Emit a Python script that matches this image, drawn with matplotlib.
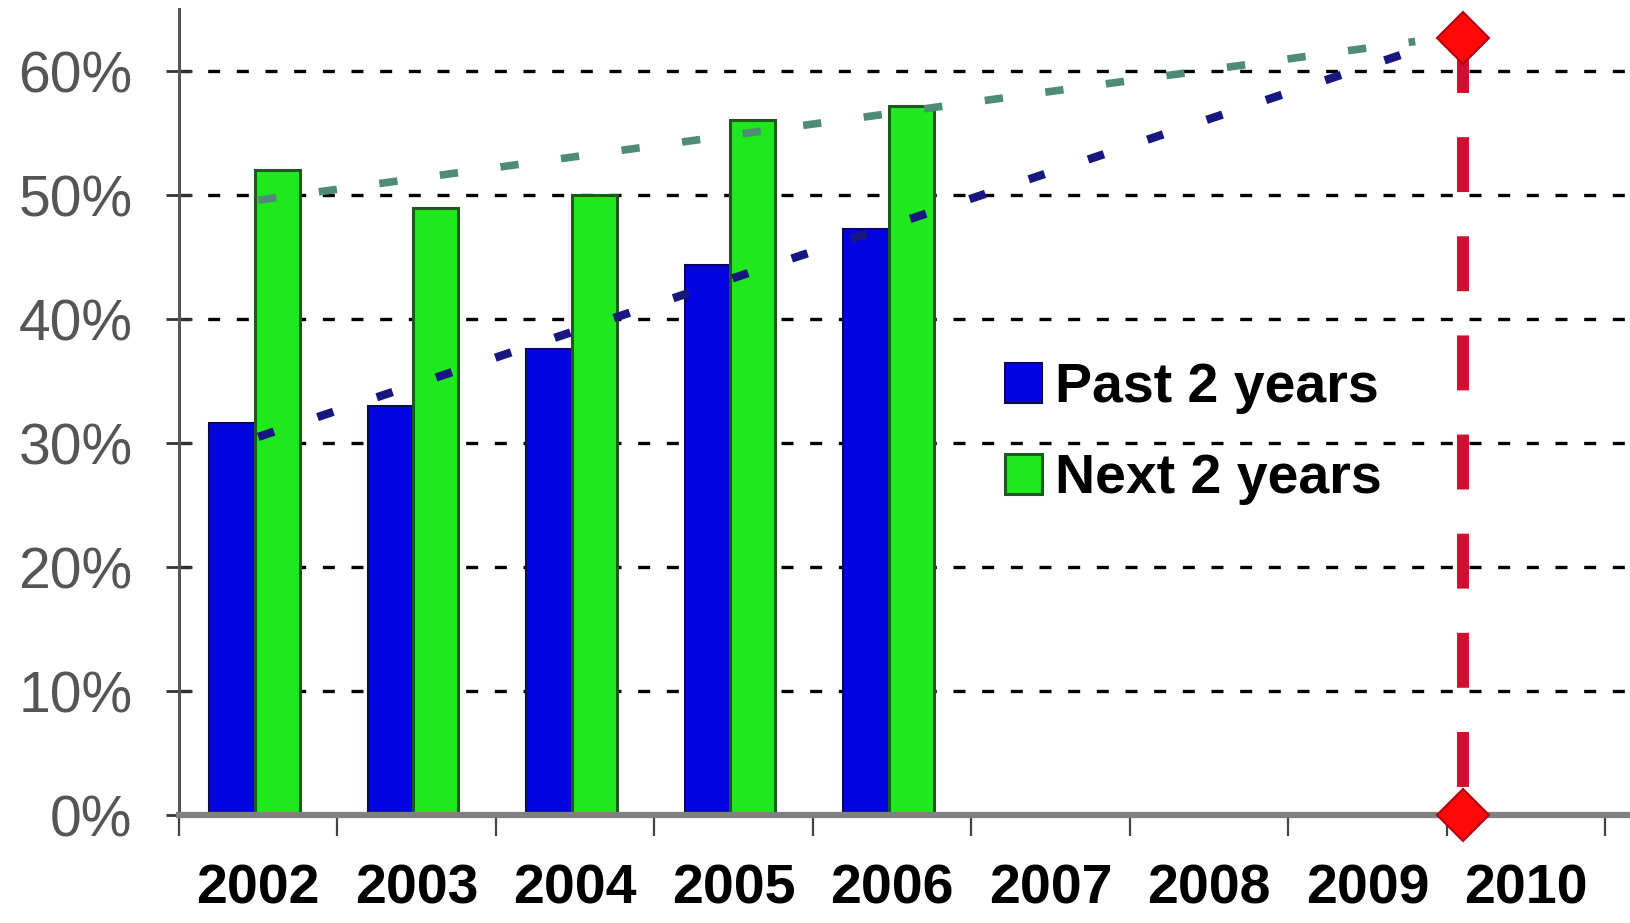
import numpy as np
import matplotlib
matplotlib.use('Agg')
import matplotlib.pyplot as plt
from matplotlib.patches import Patch

# data
years = [2002, 2003, 2004, 2005, 2006, 2007, 2008, 2009, 2010]
bar_years = [2002, 2003, 2004, 2005, 2006]
past_2y = [31.6, 33.0, 37.6, 44.4, 47.3]
next_2y = [52.0, 49.0, 50.0, 56.1, 57.2]
# dashed trend lines (start / end)
trend_years = [2002.0, 2009.3]
past_trend = [30.5, 61.7]
next_trend = [49.6, 62.4]
# red marker line
target_year = 2009.6
target_top = 62.7
yticks = [0, 10, 20, 30, 40, 50, 60]

plt.rcParams['font.family'] = ['Liberation Sans', 'DejaVu Sans']

fig = plt.figure(figsize=(16.3, 9.23), dpi=100)
ax = fig.add_axes([0.1098, 0.117, 0.8902, 0.873])

bar_w = 0.285
ax.bar(np.array(bar_years) - 0.165, past_2y, width=bar_w, color='#0404e0',
       edgecolor='#0a0a50', linewidth=1.5, zorder=2, label='Past 2 years')
ax.bar(np.array(bar_years) + 0.12, next_2y, width=bar_w, color='#1ee81e',
       edgecolor='#1c5a1c', linewidth=2.2, zorder=2, label='Next 2 years')

ax.plot(trend_years, past_trend, color='#17177f', linewidth=6.0,
        linestyle=(0, (2.0, 5.5)), solid_capstyle='butt', zorder=3)
ax.plot(trend_years, next_trend, color='#4f8c76', linewidth=5.5,
        linestyle=(0, (2.4, 5.6)), solid_capstyle='butt', zorder=3)

# vertical red dashed line with diamonds
ax.plot([target_year, target_year], [target_top, 0], color='#cc1030',
        linewidth=8.6, linestyle=(0, (4.6, 3.7)), zorder=4, clip_on=False)
ax.plot([target_year, target_year], [target_top, 0], linestyle='none',
        marker='D', markersize=26, markerfacecolor='#ff0808',
        markeredgecolor='#b00010', markeredgewidth=1.5, zorder=5, clip_on=False)

ax.set_xlim(2001.5, 2010.655)
ax.set_ylim(0, 65)

ax.set_yticks(yticks)
ax.set_yticklabels(['{}%'.format(v) for v in yticks])
ax.yaxis.grid(True, color='black', linewidth=2.4, linestyle=(0, (3.6, 5.0)))
ax.set_axisbelow(True)

ax.set_xticks(np.arange(2001.5, 2011, 1.0))
ax.set_xticklabels([])
ax.set_xticks(years, minor=True)
ax.set_xticklabels([str(y) for y in years], minor=True)

ax.tick_params(axis='x', which='major', direction='out', length=15,
               width=1.6, color='#444444')
ax.tick_params(axis='x', which='minor', length=0, pad=35, labelsize=40,
               labelcolor='black')
for lab in ax.get_xticklabels(minor=True):
    lab.set_fontweight('bold')
ax.tick_params(axis='y', direction='inout', length=19, width=2.0,
               color='#333333', pad=24, labelsize=41, labelcolor='#555555')

for s in ['top', 'right']:
    ax.spines[s].set_visible(False)
ax.spines['left'].set_color('#555555')
ax.spines['left'].set_linewidth(2.2)
ax.spines['bottom'].set_color('#808080')
ax.spines['bottom'].set_linewidth(4.5)

handles = [Patch(facecolor='#0404e0', edgecolor='#0a0a50', linewidth=1.5),
           Patch(facecolor='#1ee81e', edgecolor='#1c5a1c', linewidth=2.2)]
leg = ax.legend(handles, ['Past 2 years', 'Next 2 years'], loc='center left',
                bbox_to_anchor=(0.569, 0.473), frameon=False, borderpad=0,
                borderaxespad=0, handlelength=0.67, handleheight=0.72,
                handletextpad=0.23, labelspacing=0.7,
                prop={'size': 40, 'weight': 'bold'})

fig.savefig('out.png', dpi=100)
